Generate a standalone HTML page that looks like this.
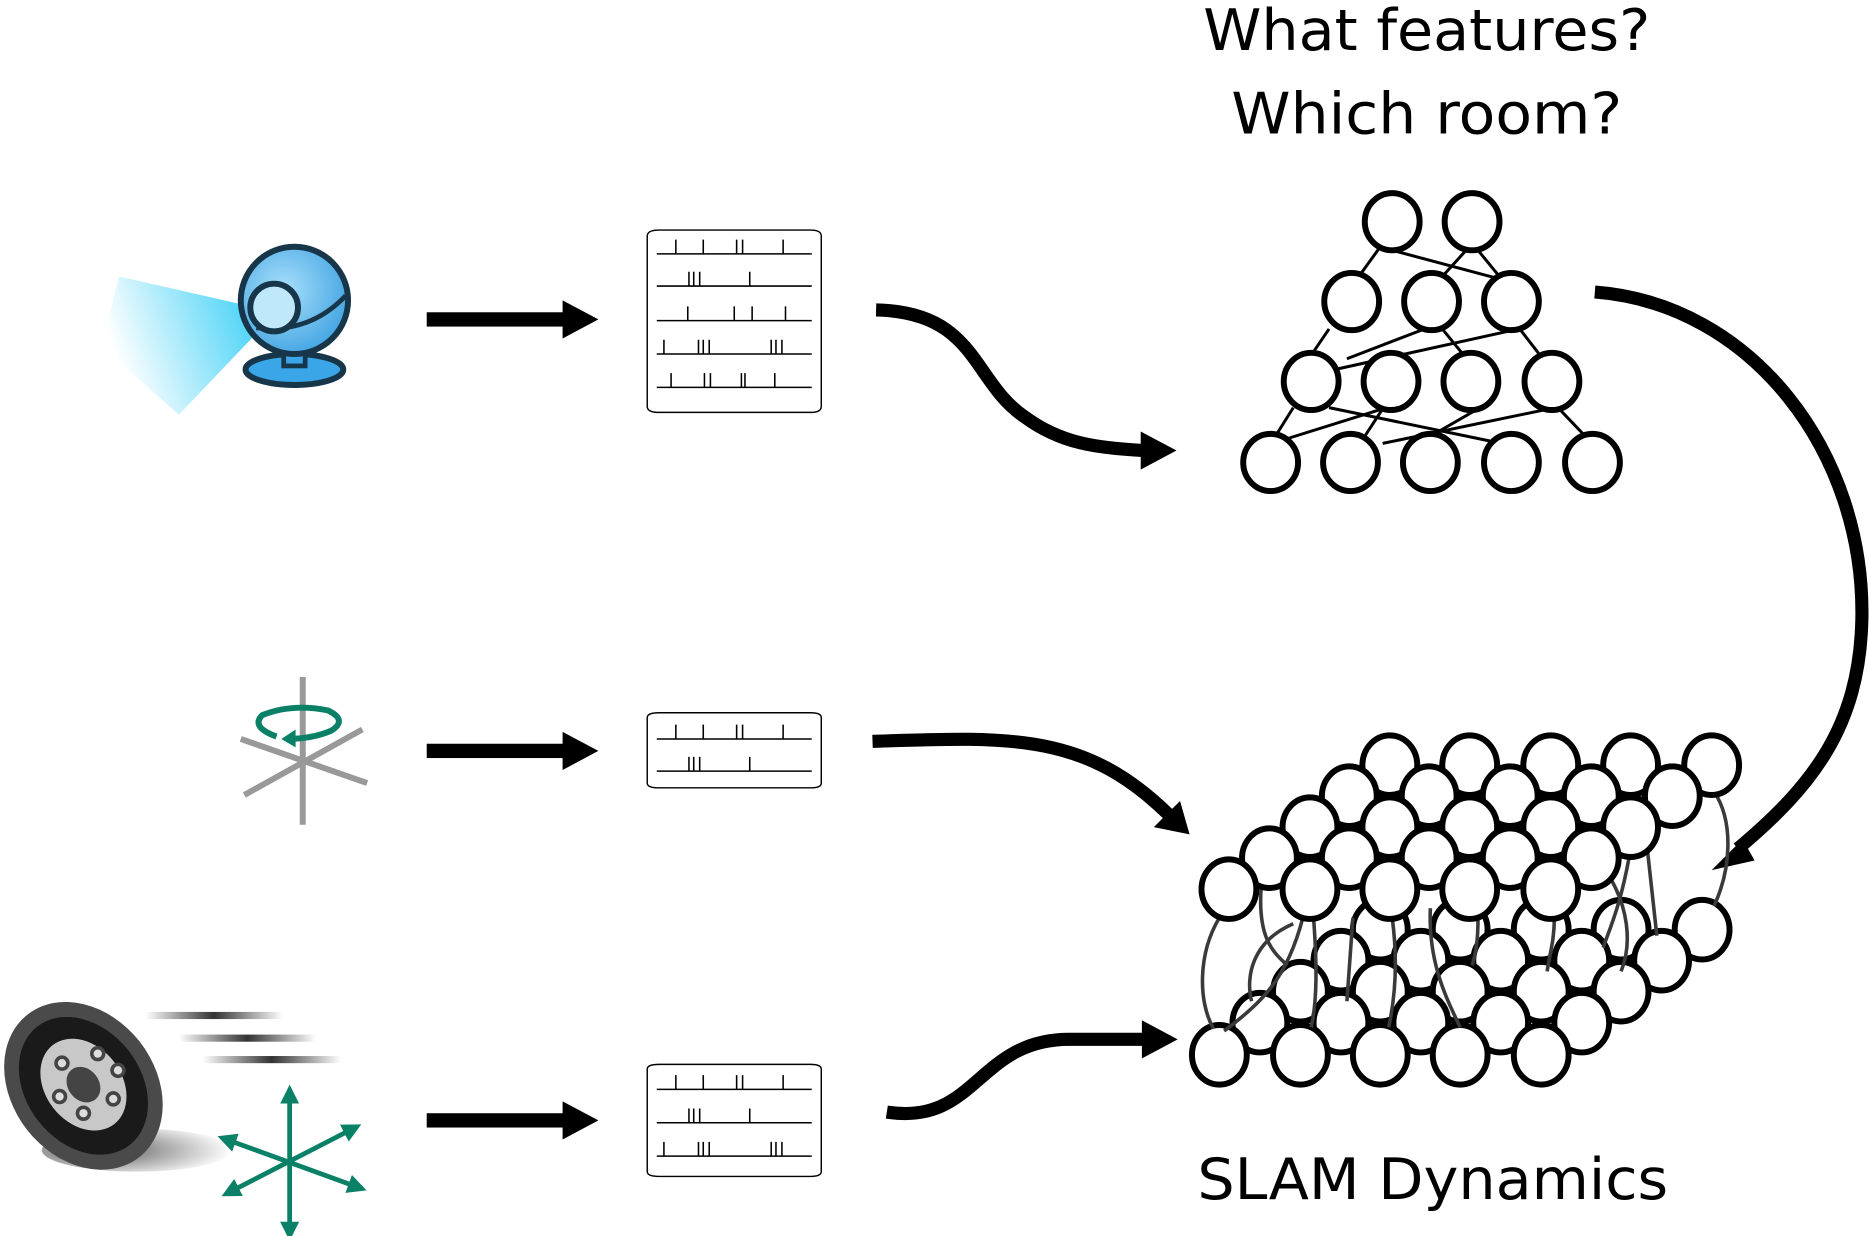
<!DOCTYPE html>
<html><head><style>html,body{margin:0;padding:0;background:#fff;}svg{display:block}</style></head>
<body>
<svg width="1869" height="1236" viewBox="0 0 1568 1037" preserveAspectRatio="none" xmlns="http://www.w3.org/2000/svg">
<defs>
<linearGradient id="beam" x1="1" y1="0" x2="0" y2="0.3"><stop offset="0" stop-color="#1ec8f5"/><stop offset="1" stop-color="#1ec8f5" stop-opacity="0"/></linearGradient>
<radialGradient id="ball" cx="0.4" cy="0.4" r="0.7"><stop offset="0" stop-color="#a8e0fb"/><stop offset="1" stop-color="#3a9fe0"/></radialGradient>
<linearGradient id="blur" x1="0" x2="1"><stop offset="0" stop-color="#333" stop-opacity="0"/><stop offset="0.5" stop-color="#333"/><stop offset="1" stop-color="#333" stop-opacity="0"/></linearGradient>
<radialGradient id="shadow" cx="0.3" cy="0.5" r="0.7"><stop offset="0" stop-color="#555"/><stop offset="1" stop-color="#555" stop-opacity="0"/></radialGradient>
<marker id="ah" viewBox="0 0 10 10" refX="5" refY="5" markerWidth="4" markerHeight="4" orient="auto-start-reverse"><path d="M0,0 L10,5 L0,10 z" fill="#0a8066"/></marker>
</defs>
<g font-family="'DejaVu Sans','Liberation Sans',sans-serif" font-size="48" text-anchor="middle" fill="#000">
<text x="1197" y="42" textLength="375" lengthAdjust="spacingAndGlyphs">What features?</text>
<text x="1197" y="112" textLength="328" lengthAdjust="spacingAndGlyphs">Which room?</text>
<text x="1202" y="1006" textLength="395" lengthAdjust="spacingAndGlyphs">SLAM Dynamics</text>
</g>
<!-- webcam -->
<polygon points="232,262 100,232 85,290 150,348" fill="url(#beam)"/>
<ellipse cx="247" cy="310" rx="41" ry="13" fill="#3aa6e8" stroke="#17364a" stroke-width="5"/>
<rect x="238" y="285" width="18" height="22" fill="#3aa6e8" stroke="#17364a" stroke-width="4"/>
<circle cx="247" cy="252" r="45" fill="url(#ball)" stroke="#17364a" stroke-width="5"/>
<path d="M215,275 Q260,280 290,248" fill="none" stroke="#17364a" stroke-width="4"/>
<circle cx="230" cy="258" r="20" fill="#bfe9fb" stroke="#17364a" stroke-width="5"/>
<!-- gyro -->
<line x1="254" y1="568" x2="254" y2="692" stroke="#999" stroke-width="5"/>
<line x1="202" y1="620" x2="308" y2="657" stroke="#999" stroke-width="5"/>
<line x1="205" y1="667" x2="304" y2="612" stroke="#999" stroke-width="5"/>
<path d="M232,618 Q210,610 220,600 Q245,590 275,596 Q292,604 278,613 Q262,620 240,620" fill="none" stroke="#0a8066" stroke-width="5"/>
<path d="M236,620 L248,612 L248,627 z" fill="#0a8066"/>
<!-- wheel -->
<ellipse cx="115" cy="965" rx="80" ry="18" fill="url(#shadow)"/>
<rect x="122" y="849" width="115" height="6" fill="url(#blur)"/>
<rect x="150" y="868" width="115" height="6" fill="url(#blur)"/>
<rect x="170" y="886" width="116" height="6" fill="url(#blur)"/>
<ellipse cx="70" cy="911" rx="60" ry="76" transform="rotate(-38 70 911)" fill="#4a4a4a"/>
<ellipse cx="70" cy="911" rx="48" ry="63" transform="rotate(-38 70 911)" fill="#1a1a1a"/>
<ellipse cx="70" cy="910" rx="32" ry="42" transform="rotate(-38 70 910)" fill="#c8c8c8"/>
<ellipse cx="70" cy="910" rx="13" ry="16" transform="rotate(-38 70 910)" fill="#444"/>
<g fill="#ddd" stroke="#444" stroke-width="3">
<circle cx="82" cy="884" r="5"/><circle cx="99" cy="898" r="5"/><circle cx="95" cy="922" r="5"/><circle cx="70" cy="934" r="5"/><circle cx="50" cy="920" r="5"/><circle cx="52" cy="892" r="5"/></g>
<g stroke="#0a8066" stroke-width="4" marker-start="url(#ah)" marker-end="url(#ah)">
<line x1="243" y1="918" x2="243" y2="1033"/>
<line x1="193" y1="1000" x2="296" y2="947"/>
<line x1="190" y1="956" x2="300" y2="996"/>
</g>
<!-- straight arrows -->
<g fill="#000">
<rect x="358" y="262" width="115" height="12"/><path d="M472,252 L502,268 L472,284z"/>
<rect x="358" y="624" width="115" height="12"/><path d="M472,614 L502,630 L472,646z"/>
<rect x="358" y="934" width="115" height="12"/><path d="M472,924 L502,940 L472,956z"/>
</g>
<!-- rasters -->
<g fill="#fff" stroke="#000" stroke-width="1.2">
<path d="M543,198 Q543,193 553,193 L680,193 Q689,193 689,198 L689,341 Q689,346 680,346 L553,346 Q543,346 543,341z"/>
<path d="M543,602 Q543,598 553,598 L680,598 Q689,598 689,602 L689,657 Q689,661 680,661 L553,661 Q543,661 543,657z"/>
<path d="M543,897 Q543,893 553,893 L680,893 Q689,893 689,897 L689,983 Q689,987 680,987 L553,987 Q543,987 543,983z"/>
</g>
<g stroke="#000" stroke-width="1.3">
<path d="M551,213H681M567,213v-12M590,213v-12M618,213v-12M623,213v-12M657,213v-12"/>
<path d="M551,240H681M578,240v-12M582,240v-12M587,240v-12M629,240v-12"/>
<path d="M551,269H681M577,269v-12M616,269v-12M631,269v-12M659,269v-12"/>
<path d="M551,297H681M557,297v-12M586,297v-12M590,297v-12M595,297v-12M647,297v-12M651,297v-12M656,297v-12"/>
<path d="M551,325H681M563,325v-12M591,325v-12M596,325v-12M622,325v-12M625,325v-12M650,325v-12"/>
<path d="M551,620H681M567,620v-12M590,620v-12M618,620v-12M623,620v-12M657,620v-12"/>
<path d="M551,647H681M578,647v-12M582,647v-12M587,647v-12M629,647v-12"/>
<path d="M551,914H681M567,914v-12M590,914v-12M618,914v-12M623,914v-12M657,914v-12"/>
<path d="M551,942H681M578,942v-12M582,942v-12M587,942v-12M629,942v-12"/>
<path d="M551,970H681M557,970v-12M586,970v-12M590,970v-12M595,970v-12M647,970v-12M651,970v-12M656,970v-12"/>
</g>
<!-- curved arrows -->
<g fill="none" stroke="#000" stroke-width="11">
<path d="M735,260 C820,262 815,320 860,350 C890,372 920,376 960,378"/>
<path d="M732,622 C850,618 910,615 980,683"/>
<path d="M744,933 C820,945 820,870 900,872 L965,872"/>
<path d="M1338,245 C1470,255 1565,380 1562,520 C1560,610 1520,660 1458,712"/>
</g>
<g fill="#000">
<path d="M957,362 L987,378 L957,394z"/>
<path d="M968,694 L998,700 L990,672z"/>
<path d="M958,856 L988,872 L958,888z"/>
<path d="M1462,704 L1436,730 L1472,722z"/>
</g>
<!-- pyramid -->
<g stroke="#000" stroke-width="2.5">
<line x1="1158" y1="207" x2="1140" y2="232"/><line x1="1168" y1="210" x2="1258" y2="234"/><line x1="1240" y1="210" x2="1258" y2="232"/><line x1="1230" y1="210" x2="1210" y2="232"/>
<line x1="1115" y1="276" x2="1100" y2="298"/><line x1="1195" y1="276" x2="1130" y2="301"/><line x1="1210" y1="276" x2="1228" y2="298"/><line x1="1275" y1="276" x2="1292" y2="298"/><line x1="1265" y1="278" x2="1120" y2="310"/>
<line x1="1085" y1="342" x2="1070" y2="366"/><line x1="1115" y1="342" x2="1250" y2="370"/><line x1="1160" y1="343" x2="1145" y2="366"/><line x1="1160" y1="343" x2="1080" y2="368"/><line x1="1240" y1="343" x2="1200" y2="366"/><line x1="1300" y1="343" x2="1160" y2="372"/><line x1="1308" y1="343" x2="1330" y2="366"/>
</g>
<g fill="#fff" stroke="#000" stroke-width="5">
<ellipse cx="1168" cy="186" rx="23" ry="24"/><ellipse cx="1235" cy="186" rx="23" ry="24"/>
<ellipse cx="1134" cy="253" rx="23" ry="24"/><ellipse cx="1201" cy="253" rx="23" ry="24"/><ellipse cx="1268" cy="253" rx="23" ry="24"/>
<ellipse cx="1100" cy="320" rx="23" ry="24"/><ellipse cx="1167" cy="320" rx="23" ry="24"/><ellipse cx="1234" cy="320" rx="23" ry="24"/><ellipse cx="1302" cy="320" rx="23" ry="24"/>
<ellipse cx="1066" cy="388" rx="23" ry="24"/><ellipse cx="1133" cy="388" rx="23" ry="24"/><ellipse cx="1200" cy="388" rx="23" ry="24"/><ellipse cx="1268" cy="388" rx="23" ry="24"/><ellipse cx="1336" cy="388" rx="23" ry="24"/>
</g>
<!-- lattice bottom layer -->
<g fill="#fff" stroke="#000" stroke-width="5">
<ellipse cx="1158" cy="780" rx="23" ry="25"/><ellipse cx="1225" cy="780" rx="23" ry="25"/><ellipse cx="1293" cy="780" rx="23" ry="25"/><ellipse cx="1360" cy="780" rx="23" ry="25"/><ellipse cx="1428" cy="780" rx="23" ry="25"/>
<ellipse cx="1125" cy="806" rx="23" ry="25"/><ellipse cx="1192" cy="806" rx="23" ry="25"/><ellipse cx="1259" cy="806" rx="23" ry="25"/><ellipse cx="1327" cy="806" rx="23" ry="25"/><ellipse cx="1394" cy="806" rx="23" ry="25"/>
<ellipse cx="1091" cy="832" rx="23" ry="25"/><ellipse cx="1158" cy="832" rx="23" ry="25"/><ellipse cx="1225" cy="832" rx="23" ry="25"/><ellipse cx="1293" cy="832" rx="23" ry="25"/><ellipse cx="1360" cy="832" rx="23" ry="25"/>
<ellipse cx="1057" cy="858" rx="23" ry="25"/><ellipse cx="1125" cy="858" rx="23" ry="25"/><ellipse cx="1192" cy="858" rx="23" ry="25"/><ellipse cx="1259" cy="858" rx="23" ry="25"/><ellipse cx="1327" cy="858" rx="23" ry="25"/>
<ellipse cx="1023" cy="885" rx="23" ry="25"/><ellipse cx="1091" cy="885" rx="23" ry="25"/><ellipse cx="1158" cy="885" rx="23" ry="25"/><ellipse cx="1225" cy="885" rx="23" ry="25"/><ellipse cx="1293" cy="885" rx="23" ry="25"/>
</g>
<g fill="none" stroke="#3a3a3a" stroke-width="3">
<path d="M1023,770 C1005,800 1005,840 1018,863"/>
<path d="M1058,745 C1055,790 1070,800 1080,810"/>
<path d="M1093,770 C1080,820 1060,840 1027,865"/>
<path d="M1085,775 C1050,790 1045,820 1050,840"/>
<path d="M1102,770 C1105,810 1105,840 1100,862"/>
<path d="M1135,770 L1130,840"/>
<path d="M1168,770 C1172,800 1172,830 1165,862"/>
<path d="M1200,762 C1198,810 1215,840 1225,862"/>
<path d="M1240,770 C1240,790 1238,800 1235,810"/>
<path d="M1304,770 C1304,790 1300,800 1298,815"/>
<path d="M1368,712 C1360,760 1350,780 1345,795"/>
<path d="M1350,735 C1365,760 1370,790 1360,815"/>
<path d="M1382,712 L1390,785"/>
<path d="M1438,664 C1455,690 1452,730 1438,760"/>
</g>
<!-- lattice top layer -->
<g fill="#fff" stroke="#000" stroke-width="5">
<ellipse cx="1166" cy="642" rx="23" ry="25"/><ellipse cx="1233" cy="642" rx="23" ry="25"/><ellipse cx="1301" cy="642" rx="23" ry="25"/><ellipse cx="1368" cy="642" rx="23" ry="25"/><ellipse cx="1436" cy="642" rx="23" ry="25"/>
<ellipse cx="1132" cy="668" rx="23" ry="25"/><ellipse cx="1199" cy="668" rx="23" ry="25"/><ellipse cx="1267" cy="668" rx="23" ry="25"/><ellipse cx="1335" cy="668" rx="23" ry="25"/><ellipse cx="1403" cy="668" rx="23" ry="25"/>
<ellipse cx="1099" cy="694" rx="23" ry="25"/><ellipse cx="1166" cy="694" rx="23" ry="25"/><ellipse cx="1233" cy="694" rx="23" ry="25"/><ellipse cx="1301" cy="694" rx="23" ry="25"/><ellipse cx="1368" cy="694" rx="23" ry="25"/>
<ellipse cx="1065" cy="720" rx="23" ry="25"/><ellipse cx="1132" cy="720" rx="23" ry="25"/><ellipse cx="1199" cy="720" rx="23" ry="25"/><ellipse cx="1267" cy="720" rx="23" ry="25"/><ellipse cx="1335" cy="720" rx="23" ry="25"/>
<ellipse cx="1031" cy="746" rx="23" ry="25"/><ellipse cx="1099" cy="746" rx="23" ry="25"/><ellipse cx="1166" cy="746" rx="23" ry="25"/><ellipse cx="1233" cy="746" rx="23" ry="25"/><ellipse cx="1301" cy="746" rx="23" ry="25"/>
</g>
</svg>
</body></html>
